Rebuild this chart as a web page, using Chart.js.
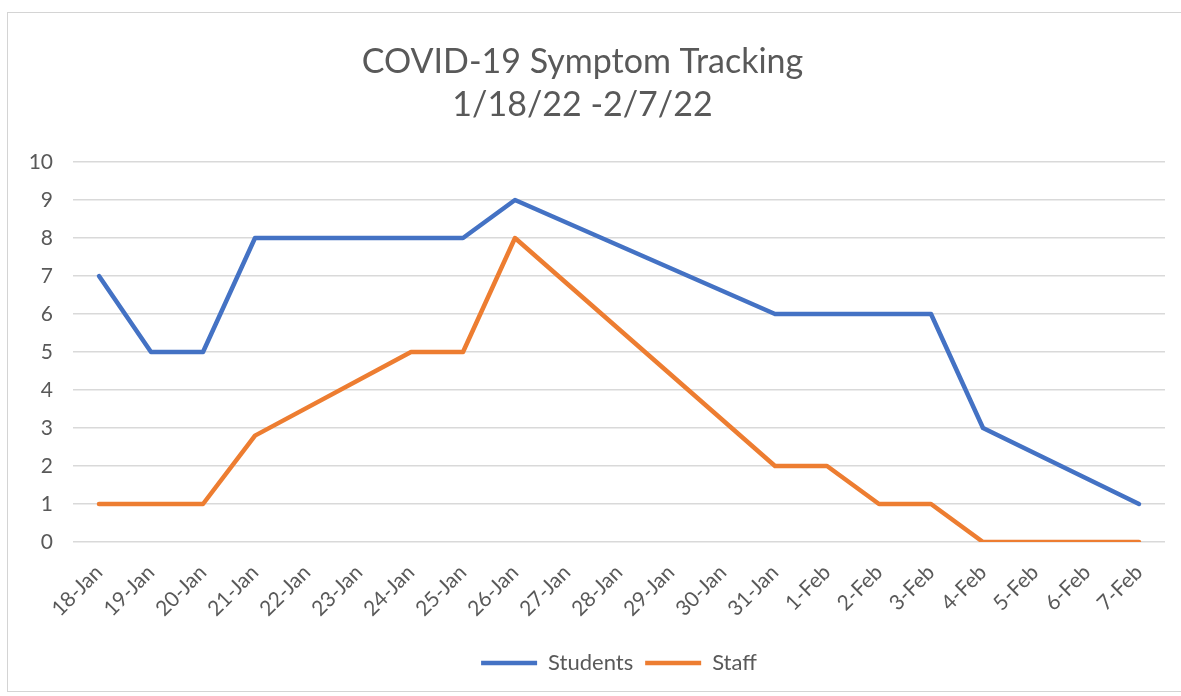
<!DOCTYPE html>
<html>
<head>
<meta charset="utf-8">
<script src="https://cdn.jsdelivr.net/npm/chart.js@4/dist/chart.umd.min.js"></script>
<style>
  html, body { margin: 0; padding: 0; background: #ffffff; }
  #wrap { position: relative; width: 1181px; height: 696px; overflow: hidden; }
  #frame { position: absolute; left: 7px; top: 12px; width: 1200px; height: 680px;
           border: 1px solid #d4d4d4; box-sizing: border-box; }
  canvas { position: absolute; left: 0; top: 0; }
</style>
</head>
<body>
<div id="wrap">
  <div id="frame"></div>
  <canvas id="c" width="1181" height="696"></canvas>
</div>
<script>
const titleLines = ["COVID-19 Symptom Tracking", "1/18/22 -2/7/22"];
const categories = ["18-Jan","19-Jan","20-Jan","21-Jan","22-Jan","23-Jan","24-Jan","25-Jan","26-Jan","27-Jan","28-Jan","29-Jan","30-Jan","31-Jan","1-Feb","2-Feb","3-Feb","4-Feb","5-Feb","6-Feb","7-Feb"];
const students = [7, 5, 5, 8, 8, 8, 8, 8, 9, null, null, null, null, 6, 6, 6, 6, 3, null, null, 1];
const staff    = [1, 1, 1, 2.8, null, null, 5, 5, 8, null, null, null, null, 2, 2, 1, 1, 0, 0, 0, 0];
const yTicks = [0, 1, 2, 3, 4, 5, 6, 7, 8, 9, 10];

const FONT = "Lato, 'Open Sans', sans-serif";
const TXT = "#595959";

new Chart(document.getElementById("c"), {
  type: "line",
  data: {
    labels: categories,
    datasets: [
      { label: "Students", data: students, borderColor: "#4472C4", backgroundColor: "#4472C4",
        borderWidth: 4.5, pointRadius: 0, tension: 0, spanGaps: true,
        borderJoinStyle: "round", borderCapStyle: "round" },
      { label: "Staff", data: staff, borderColor: "#ED7D31", backgroundColor: "#ED7D31",
        borderWidth: 4.5, pointRadius: 0, tension: 0, spanGaps: true,
        borderJoinStyle: "round", borderCapStyle: "round" }
    ]
  },
  options: {
    responsive: false,
    animation: false,
    devicePixelRatio: 1,
    layout: { padding: { left: 0, right: 16, top: 0, bottom: 12 } },
    plugins: {
      title: {
        display: true,
        text: titleLines,
        color: TXT,
        font: { family: FONT, size: 34, weight: "normal", lineHeight: 1.28 },
        padding: { top: 40, bottom: 35 }
      },
      legend: {
        position: "bottom",
        fullSize: false,
        labels: {
          usePointStyle: true,
          pointStyle: "line",
          pointStyleWidth: 56,
          color: TXT,
          font: { family: FONT, size: 22 },
          padding: 12
        }
      },
      tooltip: { enabled: false }
    },
    scales: {
      x: {
        offset: true,
        grid: { display: false, drawTicks: false },
        border: { display: false },
        ticks: { color: TXT, font: { family: FONT, size: 21 }, minRotation: 45, maxRotation: 45, padding: 18, autoSkip: false },
        afterFit: (s) => { s.height = 98; }
      },
      y: {
        min: 0, max: 10,
        afterBuildTicks: (s) => { s.ticks = yTicks.map(v => ({ value: v })); },
        grid: { color: "#d9d9d9", lineWidth: 1.5, drawTicks: false },
        border: { display: false },
        ticks: { color: TXT, font: { family: FONT, size: 21 }, padding: 20 },
        afterFit: (s) => { s.width = 73; }
      }
    }
  }
});
</script>
</body>
</html>
